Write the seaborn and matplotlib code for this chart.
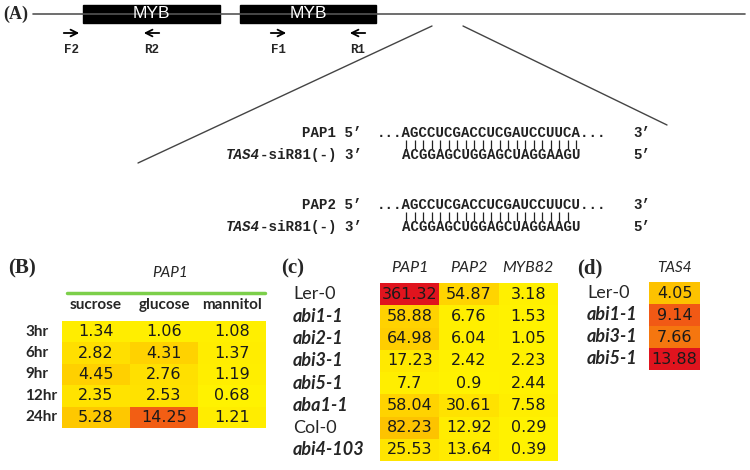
import numpy as np
import pandas as pd
import seaborn as sns
import matplotlib.pyplot as plt
from matplotlib.colors import LinearSegmentedColormap
from matplotlib.patches import Rectangle

# Data -----

b_rows = ["3hr", "6hr", "9hr", "12hr", "24hr"]
b_cols = ["sucrose", "glucose", "mannitol"]
sucrose = [1.34, 2.82, 4.45, 2.35, 5.28]
glucose = [1.06, 4.31, 2.76, 2.53, 14.25]
mannitol = [1.08, 1.37, 1.19, 0.68, 1.21]

c_rows = ["Ler-0", "abi1-1", "abi2-1", "abi3-1", "abi5-1", "aba1-1", "Col-0", "abi4-103"]
c_cols = ["PAP1", "PAP2", "MYB82"]
pap1 = [361.32, 58.88, 64.98, 17.23, 7.7, 58.04, 82.23, 25.53]
pap2 = [54.87, 6.76, 6.04, 2.42, 0.9, 30.61, 12.92, 13.64]
myb82 = [3.18, 1.53, 1.05, 2.23, 2.44, 7.58, 0.29, 0.39]

d_rows = ["Ler-0", "abi1-1", "abi3-1", "abi5-1"]
tas4 = [4.05, 9.14, 7.66, 13.88]

wild_types = ["Ler-0", "Col-0"]

# Setup -----

sns.set_theme(style="white")
plt.rcParams["font.family"] = ["DejaVu Sans"]

W, H = 750, 470
fig = plt.figure(figsize=(7.5, 4.7), dpi=100)


def px_axes(x0, y0, x1, y1):
    # axes placed by pixel box (top-left origin)
    return fig.add_axes([x0 / W, 1 - y1 / H, (x1 - x0) / W, (y1 - y0) / H])


cmap = LinearSegmentedColormap.from_list(
    "ylor",
    [(0, "#fff200"), (0.15, "#ffd400"), (0.3, "#fcb400"), (0.6, "#f25f14"), (1, "#e0141e")],
)
annot_kws = dict(fontsize=11.5, color="#1a1a1a")
serif = dict(family="Liberation Serif", weight="bold", fontsize=15, va="center")
mono = dict(family="Liberation Mono", weight="bold", fontsize=10.2, va="center", color="#222222")
char_w = 8.5  # px per monospace char at 10.2pt

# Overlay: panel A and panel titles -----

ov = px_axes(0, 0, W, H)
ov.set_xlim(0, W)
ov.set_ylim(H, 0)
ov.axis("off")

ov.text(3, 14, "(A)", family="Liberation Serif", weight="bold", fontsize=13, va="center")
ov.plot([33, 745], [14, 14], color="#555555", lw=1.2)
for x0, x1 in [(83, 220), (240, 376)]:
    ov.add_patch(Rectangle((x0, 5), x1 - x0, 18, color="black"))
    ov.text((x0 + x1) / 2, 14, "MYB", color="white", ha="center", va="center",
            fontsize=12.5, family="Liberation Sans")

primers = [("F2", 61, 82), ("R2", 162, 141), ("F1", 268, 289), ("R1", 368, 347)]
for name, xs, xe in primers:
    ov.annotate("", xy=(xe, 33), xytext=(xs, 33),
                arrowprops=dict(arrowstyle="->", lw=1.3, color="black"))
    ov.text((xs + xe) / 2, 50, name, ha="center", family="Liberation Mono",
            weight="bold", fontsize=9, va="center")

ov.plot([432, 138], [26, 163], color="#444444", lw=1)
ov.plot([463, 667], [26, 125], color="#444444", lw=1)

blocks = [
    (133, "PAP1", "...AGCCUCGACCUCGAUCCUUCA...", 21),
    (205, "PAP2", "...AGCCUCGACCUCGAUCCUUCU...", 20),
]
for y0, gene, seq, n_bars in blocks:
    ov.text(362, y0, gene + " 5\u2019", ha="right", **mono)
    ov.text(377, y0, seq, ha="left", **mono)
    ov.text(633, y0, "3\u2019", ha="left", **mono)
    bx = 402 + char_w * (np.arange(n_bars) + 0.5)
    ov.vlines(bx, y0 + 7, y0 + 16, color="#222222", lw=0.9)
    ov.text(362, y0 + 22, "-siR81(-) 3\u2019", ha="right", **mono)
    ov.text(260, y0 + 22, "TAS4", ha="right", style="italic", **mono)
    ov.text(402, y0 + 22, "ACGGAGCUGGAGCUAGGAAGU", ha="left", **mono)
    ov.text(633, y0 + 22, "5\u2019", ha="left", **mono)

ov.text(8, 268, "(B)", **serif)
ov.text(281, 268, "(c)", **serif)
ov.text(577, 268, "(d)", **serif)
ov.text(170, 273, "PAP1", ha="center", va="center", family="Lato", style="italic", fontsize=11)
ov.plot([67, 265], [293, 293], color="#7ccf4a", lw=2.5)

# Panel B -----

dfB = pd.DataFrame({"sucrose": sucrose, "glucose": glucose, "mannitol": mannitol}, index=b_rows)
axB = px_axes(62, 321, 266, 428)
sns.heatmap(dfB, ax=axB, cmap=cmap, vmin=0.68, vmax=23, annot=True, fmt="g",
            cbar=False, annot_kws=annot_kws)
axB.xaxis.tick_top()
axB.tick_params(length=0)
axB.tick_params(axis="x", pad=6.5)
axB.tick_params(axis="y", pad=26.6)
axB.set_xticklabels(b_cols, family="Lato", weight="bold", fontsize=11)
axB.set_yticklabels(b_rows, rotation=0, ha="left", family="Lato", weight="bold", fontsize=11)
axB.set_xlabel("")
axB.set_ylabel("")

# Panel C -----

dfC = pd.DataFrame({"PAP1": pap1, "PAP2": pap2, "MYB82": myb82}, index=c_rows)
axC = px_axes(380, 283, 558, 461)
sns.heatmap(dfC, ax=axC, cmap=cmap, vmin=0.29, vmax=361.32, annot=True, fmt="g",
            cbar=False, annot_kws=annot_kws)
axC.xaxis.tick_top()
axC.tick_params(length=0)
axC.tick_params(axis="x", pad=5.8)
axC.tick_params(axis="y", pad=62.6)
axC.set_xticklabels(c_cols, family="Lato", style="italic", fontsize=11.5)
axC.set_yticklabels(c_rows, rotation=0, ha="left", family="Lato", fontsize=13)
for lab in axC.get_yticklabels():
    if lab.get_text() not in wild_types:
        lab.set_style("italic")
        lab.set_weight("bold")
axC.set_xlabel("")
axC.set_ylabel("")

# Panel D -----

dfD = pd.DataFrame({"TAS4": tas4}, index=d_rows)
axD = px_axes(649, 282, 700, 370)
sns.heatmap(dfD, ax=axD, cmap=cmap, vmin=1.0, vmax=13.88, annot=True, fmt="g",
            cbar=False, annot_kws=annot_kws)
axD.xaxis.tick_top()
axD.tick_params(length=0)
axD.tick_params(axis="x", pad=5)
axD.tick_params(axis="y", pad=44.6)
axD.set_xticklabels(["TAS4"], family="Lato", style="italic", fontsize=11)
axD.set_yticklabels(d_rows, rotation=0, ha="left", family="Lato", fontsize=13)
for lab in axD.get_yticklabels():
    if lab.get_text() not in wild_types:
        lab.set_style("italic")
        lab.set_weight("bold")
axD.set_xlabel("")
axD.set_ylabel("")

fig.savefig("out.png", dpi=100)
